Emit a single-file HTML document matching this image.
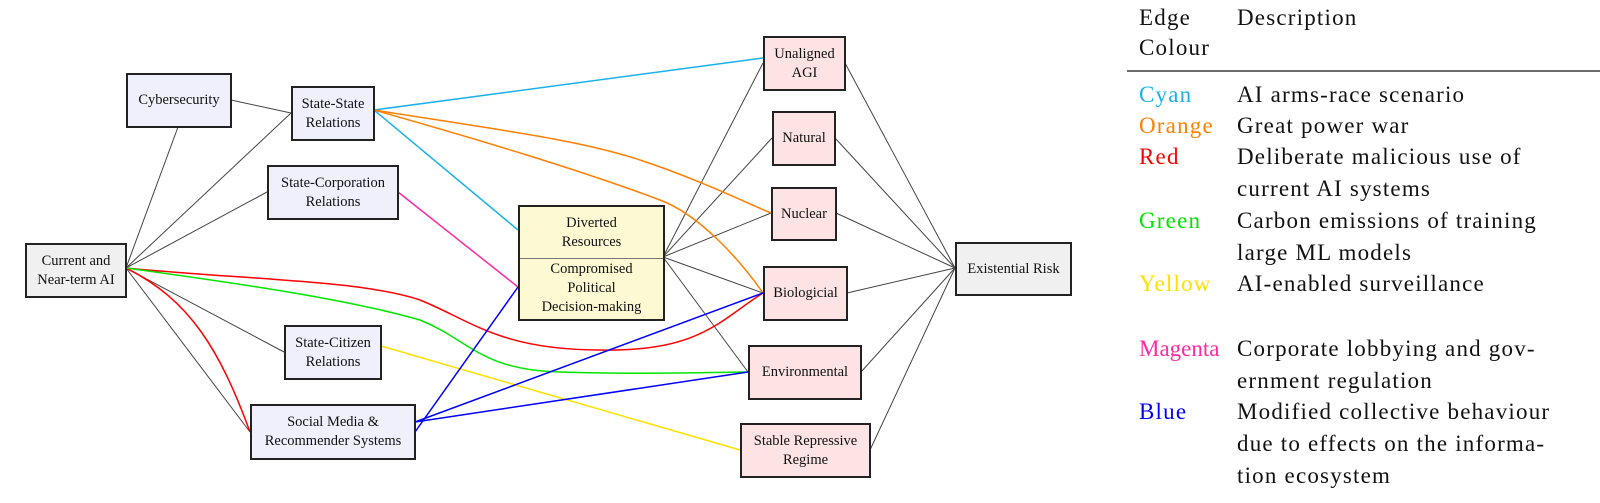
<!DOCTYPE html>
<html><head><meta charset="utf-8"><style>
body{margin:0;width:1600px;height:503px;background:#fff;overflow:hidden;font-family:"Liberation Serif",serif;position:relative}
.n{position:absolute;border:2px solid #222;box-sizing:border-box;display:flex;align-items:center;justify-content:center;text-align:center;font-size:14.5px;line-height:19px;color:#111;white-space:nowrap}
.b{background:#f0f0fc}.g{background:#f0f0f0}.p{background:#fde3e3}.y{background:#fdf9d2}
.t{position:absolute;font-size:23px;line-height:32px;color:#111;letter-spacing:1.2px;white-space:nowrap}
</style></head><body>
<svg width="1600" height="503" style="position:absolute;left:0;top:0" fill="none">
<g stroke="#444" stroke-width="1">
<line x1="231" y1="100" x2="291" y2="113"/>
<line x1="178" y1="127" x2="126" y2="268"/>
<line x1="126" y1="268" x2="291" y2="113"/>
<line x1="126" y1="268" x2="267" y2="192"/>
<line x1="126" y1="268" x2="284" y2="352"/>
<line x1="126" y1="268" x2="250" y2="432"/>
<line x1="663" y1="257" x2="763" y2="63"/>
<line x1="663" y1="257" x2="772" y2="138"/>
<line x1="663" y1="257" x2="771" y2="213"/>
<line x1="663" y1="257" x2="763" y2="293"/>
<line x1="663" y1="257" x2="748" y2="372"/>
<line x1="845" y1="63" x2="955" y2="268"/>
<line x1="835" y1="138" x2="955" y2="268"/>
<line x1="836" y1="213" x2="955" y2="268"/>
<line x1="847" y1="293" x2="955" y2="268"/>
<line x1="861" y1="372" x2="955" y2="268"/>
<line x1="870" y1="450" x2="955" y2="268"/>
</g>
<g stroke-width="1.5">
<line x1="374" y1="110" x2="763" y2="58" stroke="#1ab0ea"/>
<line x1="374" y1="110" x2="518" y2="230" stroke="#1ab0ea"/>
<path d="M374 110 C500 130 580 140 640 160 C700 180 740 200 771 213" stroke="#ff7f00"/>
<path d="M374 110 C480 140 580 170 660 200 C700 215 740 260 763 293" stroke="#ff7f00"/>
<line x1="398" y1="192" x2="518" y2="287" stroke="#ff2aa0"/>
<path d="M126 268 C250 280 360 280 420 300 C470 320 500 350 600 350 C700 352 720 320 763 293" stroke="#ff0000"/>
<path d="M126 268 C190 300 220 350 250 432" stroke="#ff0000"/>
<path d="M126 268 C250 285 350 300 420 320 C470 340 480 370 560 372 C650 375 720 372 748 372" stroke="#00e600"/>
<line x1="381" y1="346" x2="740" y2="450" stroke="#ffe000"/>
<line x1="415" y1="432" x2="518" y2="287" stroke="#0000ff"/>
<line x1="415" y1="422" x2="763" y2="293" stroke="#0000ff"/>
<line x1="415" y1="422" x2="748" y2="372" stroke="#0000ff"/>
</g>
<line x1="1127" y1="71" x2="1600" y2="71" stroke="#111" stroke-width="1.2"/>
</svg>
<div class="n b" style="left:126px;top:73px;width:106px;height:55px">Cybersecurity</div>
<div class="n b" style="left:291px;top:86px;width:84px;height:55px">State-State<br>Relations</div>
<div class="n b" style="left:267px;top:165px;width:132px;height:55px">State-Corporation<br>Relations</div>
<div class="n g" style="left:25px;top:243px;width:102px;height:55px">Current and<br>Near-term AI</div>
<div class="n b" style="left:284px;top:325px;width:98px;height:55px">State-Citizen<br>Relations</div>
<div class="n b" style="left:250px;top:404px;width:166px;height:56px">Social Media &amp;<br>Recommender Systems</div>
<div class="n y" style="left:518px;top:205px;width:147px;height:116px;display:block;padding:0">
<div style="height:51px;border-bottom:1px solid #777;display:flex;align-items:center;justify-content:center">Diverted<br>Resources</div>
<div style="height:59px;display:flex;align-items:center;justify-content:center">Compromised<br>Political<br>Decision-making</div></div>
<div class="n p" style="left:763px;top:36px;width:83px;height:55px">Unaligned<br>AGI</div>
<div class="n p" style="left:772px;top:111px;width:64px;height:55px">Natural</div>
<div class="n p" style="left:771px;top:187px;width:66px;height:54px">Nuclear</div>
<div class="n p" style="left:763px;top:266px;width:85px;height:55px">Biologicial</div>
<div class="n p" style="left:748px;top:345px;width:114px;height:55px">Environmental</div>
<div class="n p" style="left:740px;top:423px;width:131px;height:55px">Stable Repressive<br>Regime</div>
<div class="n g" style="left:955px;top:242px;width:117px;height:54px">Existential Risk</div>
<div class="t" style="left:1139px;top:3px;line-height:30px">Edge<br>Colour</div>
<div class="t" style="left:1237px;top:3px;line-height:30px">Description</div>
<div class="t" style="left:1139px;top:79px;color:#1ab0ea">Cyan</div>
<div class="t" style="left:1237px;top:79px">AI arms-race scenario</div>
<div class="t" style="left:1139px;top:110px;color:#ff7f00">Orange</div>
<div class="t" style="left:1237px;top:110px">Great power war</div>
<div class="t" style="left:1139px;top:141px;color:#ff0000">Red</div>
<div class="t" style="left:1237px;top:141px">Deliberate malicious use of<br>current AI systems</div>
<div class="t" style="left:1139px;top:205px;color:#00e600">Green</div>
<div class="t" style="left:1237px;top:205px">Carbon emissions of training<br>large ML models</div>
<div class="t" style="left:1139px;top:268px;color:#ffe000">Yellow</div>
<div class="t" style="left:1237px;top:268px">AI-enabled surveillance</div>
<div class="t" style="left:1139px;top:333px;color:#ff2aa0;letter-spacing:0">Magenta</div>
<div class="t" style="left:1237px;top:333px">Corporate lobbying and gov-<br>ernment regulation</div>
<div class="t" style="left:1139px;top:396px;color:#0000ff">Blue</div>
<div class="t" style="left:1237px;top:396px">Modified collective behaviour<br>due to effects on the informa-<br>tion ecosystem</div>
</body></html>
